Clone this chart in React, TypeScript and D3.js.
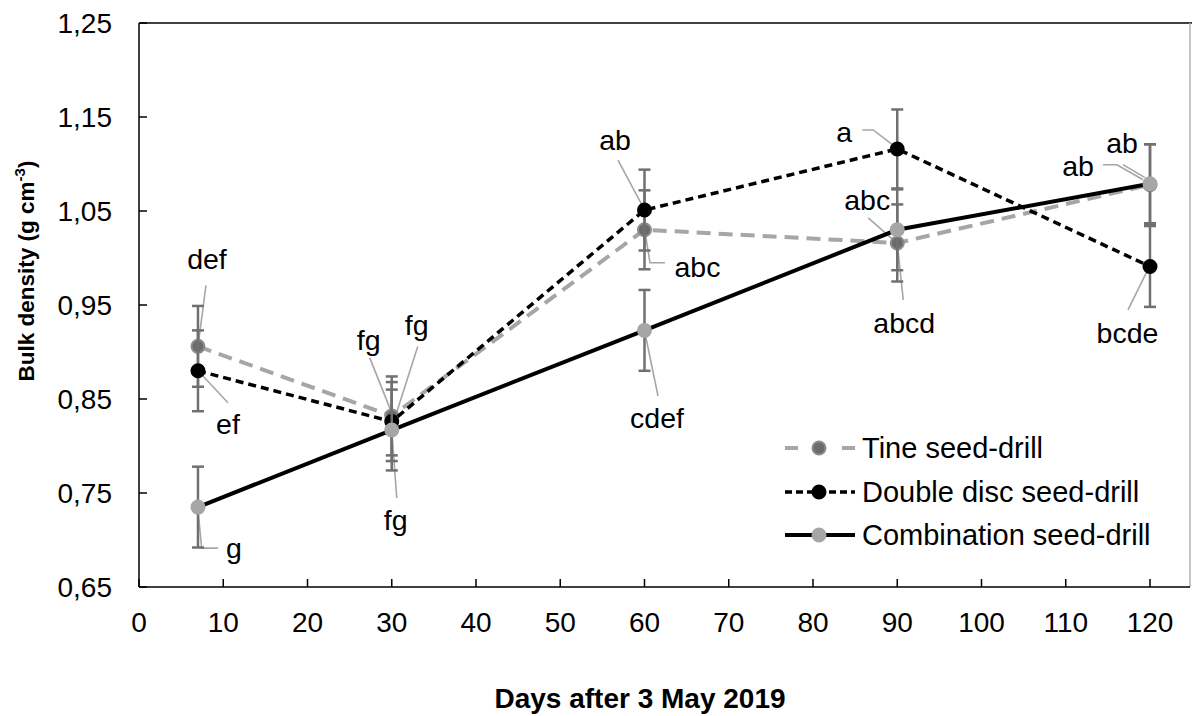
import React from "react";
import * as d3 from "d3";

// ---- data ----
const days = [7, 30, 60, 90, 120];
const seriesNames = ["Tine seed-drill", "Double disc seed-drill", "Combination seed-drill"];
const tineValues = [0.906, 0.832, 1.03, 1.016, 1.078];
const discValues = [0.88, 0.826, 1.051, 1.116, 0.991];
const combValues = [0.735, 0.817, 0.923, 1.03, 1.079];
const tineErrors = [0.043, 0.042, 0.042, 0.041, 0.043];
const discErrors = [0.043, 0.042, 0.043, 0.042, 0.043];
const combErrors = [0.043, 0.043, 0.043, 0.043, 0.042];
const tineLetters = ["def", "fg", "abc", "abcd", "ab"];
const discLetters = ["ef", "fg", "ab", "a", "bcde"];
const combLetters = ["g", "fg", "cdef", "abc", "ab"];
const yTicks = [0.65, 0.75, 0.85, 0.95, 1.05, 1.15, 1.25];
const xTicks = [0, 10, 20, 30, 40, 50, 60, 70, 80, 90, 100, 110, 120];
const xTitle = "Days after 3 May 2019";

// ---- layout (label offsets relative to marker, px) ----
type Lab = { t: [number, number]; p: [number, number][] };
const tineLayout: Lab[] = [
  { t: [9, -77], p: [[8, -61], [0, 0]] },
  { t: [-23, -66], p: [[-22, -58], [0, -3]] },
  { t: [53, 47], p: [[0.5, 2], [5.5, 33], [20.5, 33]] },
  { t: [7, 90], p: [[0, 0], [6, 57]] },
  { t: [-28, -32], p: [[-27, -20], [-5, -7]] },
];
const discLayout: Lab[] = [
  { t: [30, 63], p: [[30, 32], [2, 2]] },
  { t: [25, -87], p: [[26, -75], [1.5, 1.4]] },
  { t: [-29.5, -60], p: [[-26.5, -50], [-2.5, -5]] },
  { t: [-53, -7], p: [[-35, -19], [-24, -19], [-2, -2]] },
  { t: [-22.5, 76.5], p: [[-2, 3], [-22, 43.5]] },
];
const combLayout: Lab[] = [
  { t: [36, 51], p: [[0, 3], [3.7, 41], [20, 41]] },
  { t: [4, 100], p: [[0, 0], [5, 68]] },
  { t: [12.5, 97.6], p: [[1, 5], [13.5, 65.6]] },
  { t: [-30, -20], p: [[-29, -12], [-4, 10]] },
  { t: [-72, -8], p: [[-47, -19], [-33, -19], [-7, -4]] },
];

const W = 1192, H = 716;
const L = 139, R = 1150, T = 23, B = 587;
const FONT = "'Liberation Sans', Arial, Helvetica, sans-serif";

export default function App() {
  const x = d3.scaleLinear().domain([0, 120]).range([L, R]);
  const y = d3.scaleLinear().domain([0.65, 1.25]).range([B, T]);
  const line = d3.line<[number, number]>().x((d) => x(d[0])).y((d) => y(d[1]));
  const fmt = (v: number) => d3.format(".2f")(v).replace(".", ",");

  const series = [
    { name: seriesNames[0], values: tineValues, errors: tineErrors, letters: tineLetters, layout: tineLayout,
      stroke: "#a6a6a6", width: 4, dash: "14,8", mFill: "#6b6b6b", mStroke: "#8c8c8c" },
    { name: seriesNames[1], values: discValues, errors: discErrors, letters: discLetters, layout: discLayout,
      stroke: "#000000", width: 3.5, dash: "8,5", mFill: "#000000", mStroke: "#000000" },
    { name: seriesNames[2], values: combValues, errors: combErrors, letters: combLetters, layout: combLayout,
      stroke: "#000000", width: 4, dash: undefined as string | undefined, mFill: "#a6a6a6", mStroke: "#a6a6a6" },
  ];

  const legendY = [448, 492, 535];

  return (
    <svg width={W} height={H} style={{ position: "absolute", left: 0, top: 0, background: "#fff" }} fontFamily={FONT}>
      <rect x={0} y={0} width={W} height={H} fill="#fff" />
      {/* frame */}
      <line x1={L} x2={W} y1={T} y2={T} stroke="#000" strokeWidth={1.5} />
      <line x1={1190} x2={1190} y1={T} y2={B} stroke="#b0b0b0" strokeWidth={1.5} />
      <line x1={L} x2={L} y1={T} y2={B} stroke="#000" strokeWidth={1.5} />
      <line x1={L} x2={1190} y1={B} y2={B} stroke="#000" strokeWidth={1.5} />
      {/* y ticks */}
      {yTicks.map((t) => (
        <g key={"y" + t}>
          <line x1={L} x2={L + 8} y1={y(t)} y2={y(t)} stroke="#000" strokeWidth={1.5} />
          <text x={112} y={y(t) + 10} textAnchor="end" fontSize={28} fill="#000">{fmt(t)}</text>
        </g>
      ))}
      {/* x ticks */}
      {xTicks.map((t) => (
        <g key={"x" + t}>
          <line x1={x(t)} x2={x(t)} y1={B} y2={B - 8} stroke="#000" strokeWidth={1.5} />
          <text x={x(t)} y={632} textAnchor="middle" fontSize={28} fill="#000">{t}</text>
        </g>
      ))}
      {/* axis titles */}
      <text x={640} y={708} textAnchor="middle" fontSize={28} fontWeight="bold">{xTitle}</text>
      <text transform="translate(34,271) rotate(-90)" textAnchor="middle" fontSize={22.5} fontWeight="bold">
        Bulk density (g cm<tspan fontSize={15} dy={-9}>-3</tspan><tspan dy={9}>)</tspan>
      </text>

      {/* leader lines */}
      {series.map((s, si) =>
        s.values.map((v, i) => {
          const cx = x(days[i]), cy = y(v);
          const pts = s.layout[i].p.map(([dx, dy]) => [cx + dx, cy + dy] as [number, number]);
          return (
            <path key={`ld${si}-${i}`} d={d3.line()(pts) || ""} fill="none" stroke="#a6a6a6" strokeWidth={1.6} />
          );
        })
      )}

      {/* series */}
      {series.map((s, si) => (
        <g key={"s" + si}>
          <path d={line(days.map((d, i) => [d, s.values[i]] as [number, number])) || ""} fill="none"
            stroke={s.stroke} strokeWidth={s.width} strokeDasharray={s.dash} />
          {s.values.map((v, i) => (
            <g key={i} stroke="#707070" strokeWidth={2.5}>
              <line x1={x(days[i])} x2={x(days[i])} y1={y(v - s.errors[i])} y2={y(v + s.errors[i])} />
              <line x1={x(days[i]) - 6} x2={x(days[i]) + 6} y1={y(v + s.errors[i])} y2={y(v + s.errors[i])} />
              <line x1={x(days[i]) - 6} x2={x(days[i]) + 6} y1={y(v - s.errors[i])} y2={y(v - s.errors[i])} />
            </g>
          ))}
          {s.values.map((v, i) => (
            <circle key={"m" + i} cx={x(days[i])} cy={y(v)} r={6.5} fill={s.mFill} stroke={s.mStroke} strokeWidth={2} />
          ))}
        </g>
      ))}

      {/* letters */}
      {series.map((s, si) =>
        s.values.map((v, i) => (
          <text key={`lt${si}-${i}`} x={x(days[i]) + s.layout[i].t[0]} y={y(v) + s.layout[i].t[1]}
            textAnchor="middle" fontSize={28.5} fill="#000">{s.letters[i]}</text>
        ))
      )}

      {/* legend */}
      {series.map((s, si) => {
        const ly = legendY[si];
        return (
          <g key={"lg" + si}>
            {si === 0 ? (
              <>
                <line x1={785} x2={798} y1={ly} y2={ly} stroke={s.stroke} strokeWidth={s.width} />
                <line x1={842} x2={855} y1={ly} y2={ly} stroke={s.stroke} strokeWidth={s.width} />
              </>
            ) : (
              <line x1={785} x2={855} y1={ly} y2={ly} stroke={s.stroke} strokeWidth={s.width}
                strokeDasharray={si === 1 ? "7,4" : undefined} />
            )}
            <circle cx={819} cy={ly} r={6.5} fill={s.mFill} stroke={s.mStroke} strokeWidth={2} />
            <text x={862} y={ly + 10} fontSize={29} fill="#000">{s.name}</text>
          </g>
        );
      })}
    </svg>
  );
}
